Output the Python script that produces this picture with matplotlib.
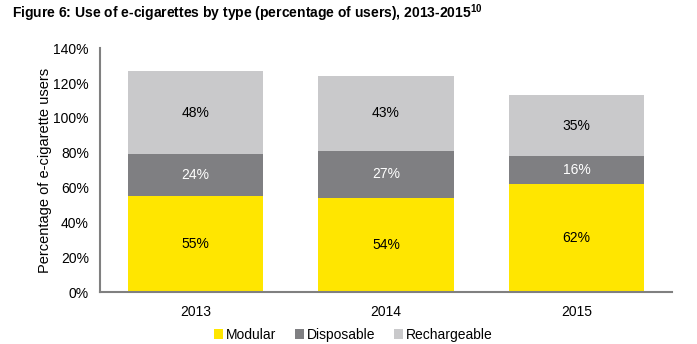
import numpy as np
import matplotlib.pyplot as plt
from matplotlib.patches import Patch

plt.rcParams['font.family'] = ['Liberation Sans', 'DejaVu Sans']

years = ['2013', '2014', '2015']
modular = [55, 54, 62]
disposable = [24, 27, 16]
rechargeable = [48, 43, 35]

series = [('Modular', modular, '#FFE600', 'black'),
          ('Disposable', disposable, '#7F7F82', 'white'),
          ('Rechargeable', rechargeable, '#C9C9CB', 'black')]

fig = plt.figure(figsize=(6.97, 3.44), dpi=100)
ax = fig.add_axes([0.1435, 0.151, 0.8205, 0.709])

x = np.arange(len(years))
bottom = np.zeros(len(years))
handles = []
for name, vals, color, tcolor in series:
    vals = np.array(vals)
    ax.bar(x, vals, width=0.71, bottom=bottom, color=color, edgecolor='none')
    for xi, b, v in zip(x, bottom, vals):
        ax.text(xi, b + v / 2, f'{v}%', ha='center', va='center',
                fontsize=10, color=tcolor)
    bottom += vals
    handles.append(Patch(facecolor=color, edgecolor='none', label=name))

ax.set_xlim(-0.5, 2.5)
ax.set_ylim(0, 140)
ax.set_yticks(np.arange(0, 141, 20))
ax.set_yticklabels([f'{v}%' for v in range(0, 141, 20)])
ax.set_xticks(x)
ax.set_xticklabels(years)
ax.tick_params(length=0, labelsize=10, pad=8)
ax.tick_params(axis='x', pad=9)
for s in ['top', 'right']:
    ax.spines[s].set_visible(False)
for s in ['left', 'bottom']:
    ax.spines[s].set_color('#808080')
    ax.spines[s].set_linewidth(1.5)
ax.set_ylabel('Percentage of e-cigarette users', fontsize=10.5, labelpad=1)

fig.text(0.017, 0.962, r'Figure 6: Use of e-cigarettes by type (percentage of users), 2013-2015$^{\mathregular{10}}$',
         fontsize=10, fontweight='bold', va='center', ha='left')

fig.legend(handles=handles, loc='center', bbox_to_anchor=(0.507, 0.026),
           ncol=3, frameon=False, fontsize=10, handlelength=0.7,
           handleheight=0.7, handletextpad=0.2, columnspacing=1.3)

fig.savefig('out.png', dpi=100)
